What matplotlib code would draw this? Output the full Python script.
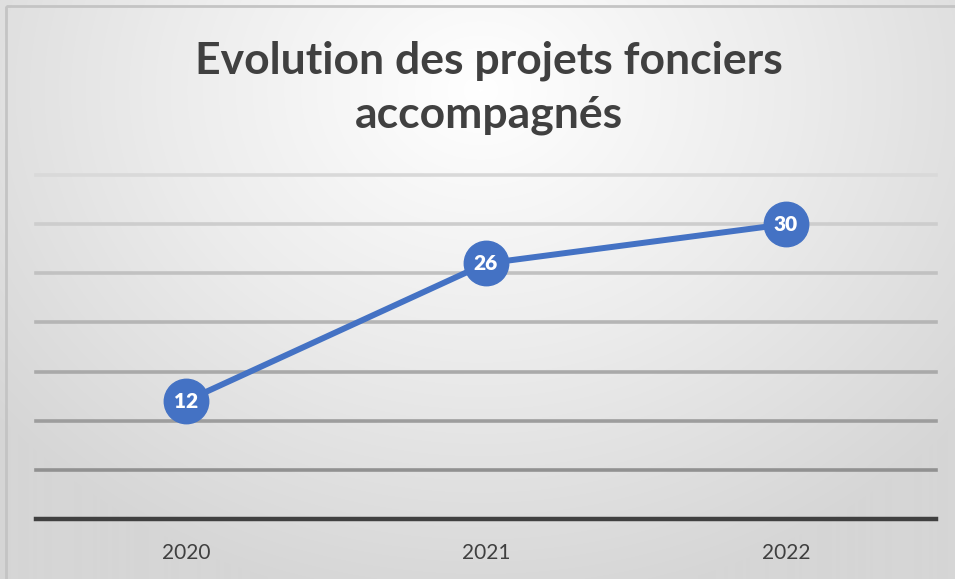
import numpy as np
import matplotlib.pyplot as plt
from matplotlib.colors import LinearSegmentedColormap
from matplotlib.patches import Rectangle

years = ["2020", "2021", "2022"]
projets = [12, 26, 30]
grid_levels = [5, 10, 15, 20, 25, 30, 35]

title = "Evolution des projets fonciers\naccompagnés"
blue = "#4472C4"
font = "Lato"

fig = plt.figure(figsize=(9.55, 5.79), dpi=100)

# soft radial background, lightest near the title
bg = fig.add_axes([0, 0, 1, 1], zorder=0)
yy, xx = np.mgrid[0:579, 0:955]
r = np.sqrt(((xx - 480) / 620.0) ** 2 + ((yy - 90) / 520.0) ** 2)
cmap = LinearSegmentedColormap.from_list("bg", ["#ffffff", "#ececec", "#d6d6d6"])
bg.imshow(np.clip(r, 0, 1), cmap=cmap, vmin=0, vmax=1, aspect="auto",
          extent=[0, 955, 579, 0])
bg.add_patch(Rectangle((5.5, 5.5), 1000, 1000, fill=False, ec="#c4c4c4", lw=2))
bg.set_xlim(0, 955)
bg.set_ylim(579, 0)
bg.axis("off")

ax = fig.add_axes([36 / 955, 60 / 579, 900 / 955, 344 / 579], zorder=1)
ax.patch.set_alpha(0)
x = np.arange(len(years))

# gridlines get darker towards the bottom
shades = np.linspace(0.57, 0.85, len(grid_levels))
for lvl, s in zip(grid_levels, shades):
    ax.axhline(lvl, color=(s, s, s), lw=2.6, zorder=1, clip_on=False)
ax.axhline(0, color="#404040", lw=3.2, zorder=1, clip_on=False)

ax.plot(x, projets, color=blue, lw=4.3, marker="o", markersize=32,
        solid_capstyle="round", zorder=3)
for xi, v in zip(x, projets):
    ax.text(xi, v, str(v), color="white", fontsize=15, fontweight="heavy",
            family=font, ha="center", va="center", zorder=4)

ax.set_xlim(-0.5, len(years) - 0.5)
ax.set_ylim(0, 35)
ax.set_xticks(x)
ax.set_xticklabels(years, family=font, fontsize=15, color="#404040")
ax.tick_params(axis="x", length=0, pad=17)
ax.set_yticks([])
for sp in ax.spines.values():
    sp.set_visible(False)

fig.text(0.512, 0.848, title, ha="center", va="center", family=font,
         fontsize=32, fontweight="bold", color="#404040", linespacing=1.4)

fig.savefig("out.png", dpi=100)
